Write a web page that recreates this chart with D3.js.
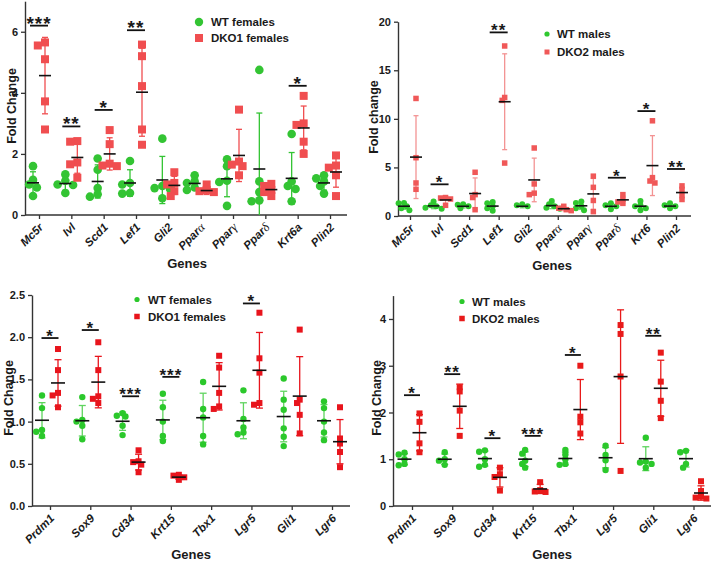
<!DOCTYPE html>
<html><head><meta charset="utf-8">
<script src="https://cdn.jsdelivr.net/npm/d3@7"></script>
<style>
body{margin:0;background:#fff}
text{font-family:"Liberation Sans",Arial,sans-serif;fill:#1a1a1a}
</style></head>
<body>
<script>
// ---------- Panel A : females, top-left ----------
const genesA = ["Mc5r","Ivl","Scd1","Lef1","Gli2","Pparα","Pparγ","Pparδ","Krt6a","Plin2"];
const wtA = [[1.6,1.15,1.0,0.9,0.62],[1.33,1.12,1.0,0.98,0.72],[1.85,1.48,0.88,0.68,0.6],[1.77,1.05,1.0,0.72,0.7],[2.5,0.95,0.88,0.85,0.55],
             [1.3,1.1,1.05,0.9,0.82],[1.82,1.6,1.12,1.08,0.3],[4.75,1.1,0.75,0.48,0.45],[2.65,1.1,0.95,0.85,0.45],[1.3,1.2,1.1,0.95,0.7]];
const koA = [[5.65,5.55,5.1,3.72,2.8],[2.42,2.4,1.72,1.66,1.22],[2.78,2.32,1.68,1.62,1.6],[5.58,5.2,4.22,2.8,2.3],[1.4,1.05,1.0,0.78,0.62],
             [1.0,0.82,0.78,0.75,0.65],[3.45,1.75,1.65,1.6,1.3],[1.02,0.95,0.82,0.75,0.62],[3.9,3.0,2.95,2.4,2.0],[1.95,1.62,1.55,1.3,0.62]];
const sigGenesA = ["Mc5r","Ivl","Scd1","Lef1","Krt6a"];
const sigStarsA = ["***","**","*","**","*"];
const sigLevelA = [6.2,2.9,3.44,6.05,4.23];
const ticksA = [0,2,4,6];
const legendA = ["WT females","DKO1 females"];

// ---------- Panel B : males, top-right ----------
const genesB = ["Mc5r","Ivl","Scd1","Lef1","Gli2","Pparα","Pparγ","Pparδ","Krt6","Plin2"];
const wtB = [[1.35,1.3,1.0,0.8,0.6],[1.5,1.1,1.0,0.85,0.75],[1.2,1.15,1.0,0.85,0.8],[1.45,1.3,1.0,0.8,0.55],[1.2,1.1,1.0,0.9,0.8],
             [1.55,1.2,1.0,0.85,0.75],[1.5,1.35,1.0,0.8,0.6],[1.3,1.1,1.0,0.9,0.7],[1.55,1.1,1.0,0.8,0.6],[1.3,1.1,1.0,0.9,0.8]];
const koB = [[12.1,6.0,3.4,2.75],[1.9,1.85,1.75,1.1],[4.5,2.2,1.9,0.65],[17.5,12.2,11.9,5.45],[7.0,3.3,2.35,2.2],
             [1.0,0.8,0.65,0.55],[4.1,2.95,1.6,0.45],[2.2,1.7,1.45,1.3],[9.8,3.95,3.6,3.4],[3.1,2.7,2.15,1.7]];
const sigGenesB = ["Ivl","Lef1","Pparδ","Krt6","Plin2"];
const sigStarsB = ["*","**","*","*","**"];
const sigLevelB = [3.26,18.9,3.94,10.8,4.84];
const ticksB = [0,5,10,15,20];
const legendB = ["WT males","DKO2 males"];

// ---------- Panel C : females, bottom-left ----------
const genesC = ["Prdm1","Sox9","Cd34","Krt15","Tbx1","Lgr5","Gli1","Lgr6"];
const wtC = [[1.31,1.16,0.9,0.88,0.83],[1.29,1.02,1.0,0.95,0.79],[1.1,1.07,1.06,0.95,0.84],[1.33,1.17,1.0,0.83,0.77],
             [1.47,1.15,1.05,0.83,0.73],[1.37,1.03,0.93,0.87,0.85],[1.51,1.26,1.14,0.92,0.82,0.71],[1.24,1.16,1.0,0.87,0.78]];
const koC = [[1.86,1.61,1.34,1.31,1.17],[1.94,1.61,1.3,1.27,1.22],[0.66,0.53,0.52,0.49,0.4],[0.37,0.36,0.34,0.33,0.31],
             [1.78,1.64,1.34,1.18,1.15],[2.29,1.75,1.58,1.22,1.2],[2.09,1.26,1.22,1.08,0.86],[1.17,0.8,0.74,0.64,0.46]];
const sigGenesC = ["Prdm1","Sox9","Cd34","Krt15","Lgr5"];
const sigStarsC = ["*","*","***","***","*"];
const sigLevelC = [1.99,2.085,1.3,1.53,2.4];
const ticksC = [0,0.5,1.0,1.5,2.0,2.5];
const legendC = ["WT females","DKO1 females"];

// ---------- Panel D : males, bottom-right ----------
const genesD = ["Prdm1","Sox9","Cd34","Krt15","Tbx1","Lgr5","Gli1","Lgr6"];
const wtD = [[1.14,1.1,1.0,0.9,0.87],[1.15,1.0,0.97,0.88],[1.19,1.16,1.0,0.88,0.84],[1.2,1.12,0.97,0.9,0.82],
             [1.2,1.1,1.0,0.9,0.88],[1.29,1.09,0.98,0.77],[1.46,0.95,0.93,0.9,0.82],[1.18,1.15,0.9,0.82]];
const koD = [[1.98,1.8,1.34,1.15],[2.54,2.45,2.04,1.5],[0.82,0.68,0.62,0.33],[0.51,0.34,0.31,0.3],
             [3.0,1.91,1.79,1.55],[3.87,3.68,2.77,0.75],[3.28,2.66,2.25,1.88],[0.53,0.32,0.2,0.18,0.16]];
const sigGenesD = ["Prdm1","Sox9","Cd34","Krt15","Tbx1","Gli1"];
const sigStarsD = ["*","**","*","***","*","**"];
const sigLevelD = [2.37,2.82,1.45,1.5,3.23,3.64];
const ticksD = [0,1,2,3,4];
const legendD = ["WT males","DKO2 males"];

const svg = d3.select("body").append("svg").attr("width",713).attr("height",561);

function geneLabel(sel, name){
  const m = name.match(/^(.*?)([α-ω])$/);
  if (m){
    sel.append("tspan").text(m[1]);
    sel.append("tspan").text(m[2]).style("font-family","'Liberation Serif',serif").style("font-weight","normal").style("font-size","1.1em");
  } else sel.text(name);
}

function placeDodge(vals, y, cx, r){
  const placed = [];
  const sorted = vals.slice().sort((a,b)=>b-a);
  const offs = [0,-1,1,-2,2,-3,3];
  sorted.forEach(v=>{
    const py = y(v);
    for (const o of offs){
      const px = cx + o*r*0.9;
      if (placed.every(p=>Math.hypot(p.x-px,p.y-py) >= r*1.35)){ placed.push({x:px,y:py,v}); break; }
    }
  });
  return placed;
}

function panel(p){
  const g = svg.append("g");
  const y = d3.scaleLinear().domain([0,p.yMax]).range([p.y0,p.yTop]);
  const x = d3.scalePoint().domain(p.genes).range([p.xFirst,p.xLast]);
  const axisColor = "#333";
  const ya = g.append("g").attr("transform",`translate(${p.x0},0)`)
    .call(d3.axisLeft(y).tickValues(p.ticks).tickFormat(p.fmt).tickSize(4).tickPadding(3).tickSizeOuter(0));
  ya.select(".domain").attr("stroke",axisColor).attr("stroke-width",1.4);
  ya.selectAll(".tick line").attr("stroke",axisColor).attr("stroke-width",1.3);
  ya.selectAll(".tick text").style("font-size",p.tickFs+"px").style("font-weight","bold").attr("fill","#1a1a1a");
  g.append("line").attr("x1",p.x0).attr("x2",p.xEnd).attr("y1",p.y0).attr("y2",p.y0).attr("stroke",axisColor).attr("stroke-width",1.4);
  const xa = g.append("g").attr("transform",`translate(0,${p.y0})`)
    .call(d3.axisBottom(x).tickSize(4).tickFormat(""));
  xa.select(".domain").remove();
  xa.selectAll(".tick line").attr("stroke",axisColor).attr("stroke-width",1.3);
  p.genes.forEach(gn=>{
    const t = g.append("text")
      .attr("transform",`translate(${x(gn)+p.lblDx},${p.y0+p.lblDy}) rotate(-45)`)
      .attr("text-anchor","end")
      .style("font-size",p.xFs+"px").style("font-weight","bold").style("font-style","italic");
    geneLabel(t,gn);
  });
  g.append("text").attr("transform",`translate(${p.ylx},${p.yly}) rotate(-90)`).attr("text-anchor","middle")
    .style("font-size","12.5px").style("font-weight","bold").text(p.yTitle);
  g.append("text").attr("x",p.gx).attr("y",p.gy).attr("text-anchor","middle")
    .style("font-size","13px").style("font-weight","bold").text("Genes");

  const groups = [
    {data:p.wt, off:-p.off, col:p.green, errCol:p.greenErr, shape:"circle"},
    {data:p.ko, off: p.off, col:p.red, errCol:p.redErr, shape:"square"}
  ];
  groups.forEach(gr=>{
    p.genes.forEach((gn,i)=>{
      const vals = gr.data[i];
      const cx = x(gn)+gr.off;
      const m = d3.mean(vals), sd = d3.deviation(vals);
      const lo = Math.max(0,m-sd), hi = Math.min(p.yMax,m+sd);
      g.append("line").attr("x1",cx).attr("x2",cx).attr("y1",y(lo)).attr("y2",y(hi)).attr("stroke",gr.errCol).attr("stroke-width",1.3);
      [hi, lo].forEach((v,k)=>{
        if (k===1 && m-sd<0) return;
        g.append("line").attr("x1",cx-p.cap).attr("x2",cx+p.cap).attr("y1",y(v)).attr("y2",y(v)).attr("stroke",gr.errCol).attr("stroke-width",1.3);
      });
      const r = gr.shape==="circle" ? p.cr : p.sq/2;
      const pts = placeDodge(vals,y,cx,r);
      pts.forEach(pt=>{
        if (gr.shape==="circle")
          g.append("circle").attr("cx",pt.x).attr("cy",pt.y).attr("r",p.cr).attr("fill",gr.col);
        else
          g.append("rect").attr("x",pt.x-p.sq/2).attr("y",pt.y-p.sq/2).attr("width",p.sq).attr("height",p.sq).attr("fill",gr.col);
      });
      g.append("line").attr("x1",cx-p.meanW/2).attr("x2",cx+p.meanW/2).attr("y1",y(m)).attr("y2",y(m)).attr("stroke","#111").attr("stroke-width",1.6);
    });
  });

  p.sigGenes.forEach((gn,i)=>{
    const cx = x(gn), yy = y(p.sigLevel[i]);
    g.append("line").attr("x1",cx-p.sigW/2).attr("x2",cx+p.sigW/2).attr("y1",yy).attr("y2",yy).attr("stroke","#111").attr("stroke-width",1.8);
    g.append("text").attr("x",cx).attr("y",yy+p.starDy).attr("text-anchor","middle")
      .style("font-size",p.starFs+"px").style("font-weight","bold").style("letter-spacing","1px").text(p.sigStars[i]);
  });

  const lg = g.append("g").attr("transform",`translate(${p.legX},${p.legY})`);
  lg.append("circle").attr("cx",0).attr("cy",0).attr("r",p.legR).attr("fill",p.green);
  lg.append("rect").attr("x",-p.legS/2).attr("y",p.legGap-p.legS/2).attr("width",p.legS).attr("height",p.legS).attr("fill",p.red);
  p.legend.forEach((t,k)=>{
    lg.append("text").attr("x",p.legTx).attr("y",k*p.legGap+4.3).style("font-size","11.5px").style("font-weight","bold").text(t);
  });
}

panel({genes:genesA, wt:wtA, ko:koA, sigGenes:sigGenesA, sigStars:sigStarsA, sigLevel:sigLevelA, ticks:ticksA, legend:legendA,
  yMax:7, y0:215, yTop:1.2, x0:25, xEnd:347, xFirst:39, xLast:330, off:6, fmt:d3.format("d"),
  green:"#33c433", greenErr:"#33c433", red:"#f04e50", redErr:"#f04e50", cr:4.3, sq:8, cap:3, meanW:12, sigW:18,
  starFs:19, starDy:4, tickFs:11, xFs:11.5, lblDx:5, lblDy:13, yTitle:"Fold Change", ylx:16, yly:106, gx:187, gy:268,
  legX:199, legY:22, legR:4.2, legS:8, legGap:16, legTx:12});

panel({genes:genesB, wt:wtB, ko:koB, sigGenes:sigGenesB, sigStars:sigStarsB, sigLevel:sigLevelB, ticks:ticksB, legend:legendB,
  yMax:20, y0:216, yTop:21.7, x0:398, xEnd:691, xFirst:410, xLast:676, off:6, fmt:d3.format("d"),
  green:"#2fc82f", greenErr:"#6ad86a", red:"#f05858", redErr:"#f39393", cr:3, sq:5.5, cap:2.5, meanW:12, sigW:18,
  starFs:17, starDy:4, tickFs:11, xFs:11.5, lblDx:5, lblDy:13, yTitle:"Fold change", ylx:378, yly:117, gx:552, gy:270,
  legX:547, legY:34, legR:2.6, legS:5, legGap:18, legTx:10});

panel({genes:genesC, wt:wtC, ko:koC, sigGenes:sigGenesC, sigStars:sigStarsC, sigLevel:sigLevelC, ticks:ticksC, legend:legendC,
  yMax:2.5, y0:506, yTop:295, x0:32, xEnd:350, xFirst:50, xLast:332, off:8, fmt:d3.format(".1f"),
  green:"#2bc82b", greenErr:"#5fd45f", red:"#e8141c", redErr:"#e8141c", cr:3.2, sq:6, cap:3.5, meanW:14, sigW:17,
  starFs:17, starDy:4, tickFs:11, xFs:11.5, lblDx:5, lblDy:13, yTitle:"Fold Change", ylx:13, yly:398, gx:191, gy:559,
  legX:137, legY:299.5, legR:2.6, legS:5.5, legGap:17, legTx:11});

panel({genes:genesD, wt:wtD, ko:koD, sigGenes:sigGenesD, sigStars:sigStarsD, sigLevel:sigLevelD, ticks:ticksD, legend:legendD,
  yMax:4.5, y0:506, yTop:295.6, x0:393, xEnd:711, xFirst:412, xLast:693.5, off:7.5, fmt:d3.format("d"),
  green:"#2bc82b", greenErr:"#5fd45f", red:"#e81a1a", redErr:"#e81a1a", cr:3.2, sq:6, cap:3.5, meanW:14, sigW:16,
  starFs:17, starDy:4, tickFs:11, xFs:11.5, lblDx:5, lblDy:13, yTitle:"Fold Change", ylx:381, yly:398, gx:552, gy:559,
  legX:462, legY:301.5, legR:2.6, legS:5.5, legGap:17, legTx:10});
</script>
</body></html>
